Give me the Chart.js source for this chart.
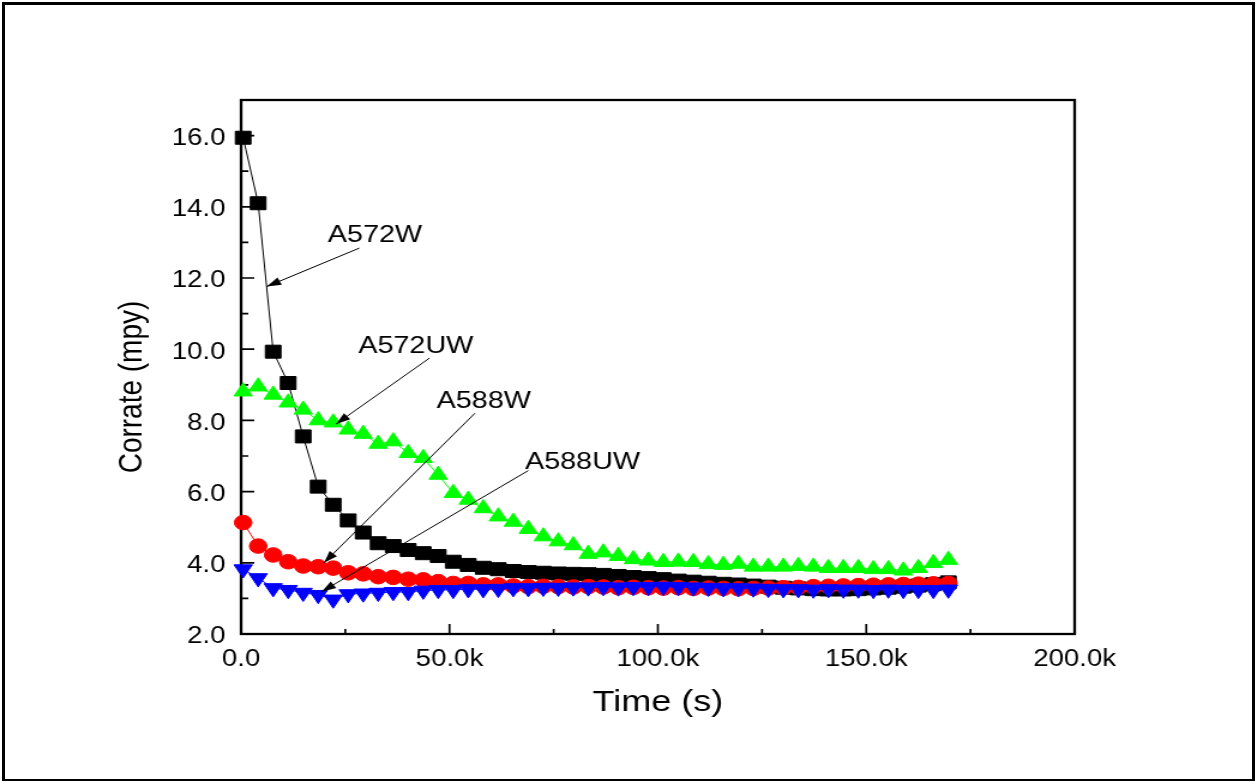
<!DOCTYPE html>
<html>
<head>
<meta charset="utf-8">
<title>Corrate vs Time</title>
<script src="https://cdn.jsdelivr.net/npm/chart.js@4.4.1/dist/chart.umd.min.js"></script>
<style>
  html, body { margin: 0; padding: 0; background: #fff; overflow: hidden; }
  #frame { position: absolute; left: 2px; top: 2px; width: 1247px; height: 774px; border: 3px solid #000; border-bottom-width: 2px; }
  /* the original figure is stretched sideways, so draw narrow and widen */
  #wrap { position: absolute; left: 0; top: 0; width: 1048px; height: 781px; transform: scaleX(1.1994); transform-origin: 0 0; }
</style>
</head>
<body>
<div id="frame"></div>
<div id="wrap"><canvas id="chart"></canvas></div>
<script>
// DATA
const TIME_S = [
  500, 4100, 7700, 11300, 14900, 18500, 22100, 25700, 29300, 32900,
  36500, 40100, 43700, 47300, 50900, 54500, 58100, 61700, 65300, 68900,
  72500, 76100, 79700, 83300, 86900, 90500, 94100, 97700, 101300, 104900,
  108500, 112100, 115700, 119300, 122900, 126500, 130100, 133700, 137300, 140900,
  144500, 148100, 151700, 155300, 158900, 162500, 166100, 169700
];
const A572W = [
  15.94, 14.10, 9.93, 9.05, 7.55, 6.14, 5.63, 5.19, 4.85, 4.55,
  4.47, 4.36, 4.27, 4.19, 4.03, 3.94, 3.86, 3.82, 3.77, 3.74,
  3.72, 3.70, 3.69, 3.68, 3.66, 3.63, 3.60, 3.57, 3.54, 3.50,
  3.47, 3.44, 3.41, 3.39, 3.36, 3.33, 3.30, 3.28, 3.26, 3.25,
  3.25, 3.26, 3.28, 3.30, 3.33, 3.36, 3.40, 3.45
];
const A588W = [
  5.13, 4.47, 4.22, 4.03, 3.91, 3.89, 3.85, 3.72, 3.69, 3.61,
  3.59, 3.54, 3.52, 3.47, 3.42, 3.42, 3.38, 3.38, 3.35, 3.33,
  3.34, 3.33, 3.32, 3.33, 3.32, 3.30, 3.31, 3.30, 3.29, 3.30,
  3.28, 3.29, 3.28, 3.27, 3.28, 3.29, 3.30, 3.31, 3.33, 3.34,
  3.35, 3.36, 3.37, 3.38, 3.39, 3.40, 3.41, 3.42
];
const A572UW = [
  8.81, 8.95, 8.72, 8.50, 8.30, 8.00, 7.94, 7.74, 7.62, 7.34,
  7.41, 7.08, 6.94, 6.47, 5.96, 5.77, 5.53, 5.30, 5.15, 4.95,
  4.74, 4.60, 4.49, 4.25, 4.29, 4.19, 4.10, 4.06, 4.02, 4.03,
  4.02, 3.96, 3.94, 3.97, 3.89, 3.89, 3.89, 3.91, 3.89, 3.85,
  3.85, 3.85, 3.82, 3.82, 3.78, 3.85, 3.99, 4.08
];
const A588UW = [
  3.82, 3.57, 3.29, 3.24, 3.16, 3.10, 2.97, 3.12, 3.14, 3.16,
  3.18, 3.18, 3.22, 3.24, 3.24, 3.26, 3.26, 3.27, 3.29, 3.29,
  3.30, 3.30, 3.31, 3.31, 3.32, 3.31, 3.32, 3.32, 3.33, 3.32,
  3.31, 3.30, 3.29, 3.29, 3.28, 3.27, 3.26, 3.26, 3.25, 3.26,
  3.25, 3.25, 3.24, 3.25, 3.24, 3.24, 3.24, 3.25
];

// labels with arrows, in data units: text corner, line start, arrow tip
const NOTES = [
  { text: 'A572W',  tx: 20800, ty: 13.02, x0: 28370, y0: 12.84, x1: 6160,  y1: 11.76 },
  { text: 'A572UW', tx: 28100, ty: 9.89,  x0: 45200, y0: 9.75,  x1: 22800, y1: 7.90 },
  { text: 'A588W',  tx: 46900, ty: 8.35,  x0: 56100, y0: 8.20,  x1: 19900, y1: 4.00 },
  { text: 'A588UW', tx: 68100, ty: 6.63,  x0: 68900, y0: 6.59,  x1: 19350, y1: 3.19 }
];

const FONT = 'Arial, "Liberation Sans", sans-serif';

function pts(vals) { return vals.map((v, i) => ({ x: TIME_S[i], y: v })); }

const boxAndTicks = {
    id: 'boxAndTicks',
    beforeDatasetsDraw(chart) {
        const { ctx, chartArea: a, scales: { x, y } } = chart;
        ctx.save();
        ctx.strokeStyle = '#000';
        ctx.lineWidth = 2.3;
        ctx.strokeRect(a.left, a.top, a.right - a.left, a.bottom - a.top);
        ctx.lineWidth = 1.7;
        ctx.beginPath();
        const xt = x.ticks.map(t => t.value);
        xt.forEach((v, i) => {
            const px = x.getPixelForValue(v);
            ctx.moveTo(px, a.bottom); ctx.lineTo(px, a.bottom - 10);
            if (i < xt.length - 1) {
                const pm = x.getPixelForValue((v + xt[i + 1]) / 2);
                ctx.moveTo(pm, a.bottom); ctx.lineTo(pm, a.bottom - 5);
            }
        });
        const yt = y.ticks.map(t => t.value);
        yt.forEach((v, i) => {
            const py = y.getPixelForValue(v);
            ctx.moveTo(a.left, py); ctx.lineTo(a.left + 11, py);
            const mid = i < yt.length - 1 ? (v + yt[i + 1]) / 2 : v + 1;
            if (mid < y.max) {
                const pm = y.getPixelForValue(mid);
                ctx.moveTo(a.left, pm); ctx.lineTo(a.left + 6, pm);
            }
        });
        ctx.stroke();
        ctx.restore();
    },
    afterDatasetsDraw(chart) {
        const { ctx, scales: { x, y } } = chart;
        ctx.save();
        ctx.fillStyle = '#000';
        ctx.strokeStyle = '#000';
        ctx.font = '24px ' + FONT;
        ctx.textBaseline = 'alphabetic';
        ctx.textAlign = 'left';
        NOTES.forEach(n => {
            ctx.fillText(n.text, x.getPixelForValue(n.tx), y.getPixelForValue(n.ty));
            const sx = x.getPixelForValue(n.x0), sy = y.getPixelForValue(n.y0);
            const ex = x.getPixelForValue(n.x1), ey = y.getPixelForValue(n.y1);
            ctx.lineWidth = 1;
            ctx.beginPath(); ctx.moveTo(sx, sy); ctx.lineTo(ex, ey); ctx.stroke();
            const ang = Math.atan2(ey - sy, ex - sx);
            const len = 12, half = 4;
            const bx = ex - Math.cos(ang) * len, by = ey - Math.sin(ang) * len;
            ctx.beginPath();
            ctx.moveTo(ex, ey);
            ctx.lineTo(bx - Math.sin(ang) * half, by + Math.cos(ang) * half);
            ctx.lineTo(bx + Math.sin(ang) * half, by - Math.cos(ang) * half);
            ctx.closePath();
            ctx.fill();
        });
        ctx.restore();
    },
    afterDraw(chart) {
        const { ctx, chartArea: a } = chart;
        ctx.save();
        ctx.translate(110, (a.top + a.bottom) / 2 + 20);
        ctx.rotate(-Math.PI / 2);
        ctx.font = '28px ' + FONT;
        ctx.fillStyle = '#000';
        ctx.textAlign = 'center';
        ctx.textBaseline = 'middle';
        ctx.fillText('Corrate (mpy)', 0, 0);
        ctx.restore();
    }
};

document.addEventListener('DOMContentLoaded', function () {
    const common = { showLine: true, borderWidth: 1, pointBorderWidth: 1, clip: false, fill: false, tension: 0 };
    new Chart(document.getElementById('chart').getContext('2d'), {
        type: 'scatter',
        data: {
            datasets: [
                { ...common, label: 'A588UW', data: pts(A588UW), borderColor: '#0000ff', backgroundColor: '#0000ff',
                  pointStyle: 'triangle', rotation: 180, pointRadius: 8.8 },
                { ...common, label: 'A588W', data: pts(A588W), borderColor: '#ff0000', backgroundColor: '#ff0000',
                  pointStyle: 'circle', pointRadius: 7.3 },
                { ...common, label: 'A572UW', data: pts(A572UW), borderColor: '#00ff00', backgroundColor: '#00ff00',
                  pointStyle: 'triangle', pointRadius: 8.8 },
                { ...common, label: 'A572W', data: pts(A572W), borderColor: '#000000', backgroundColor: '#000000',
                  pointStyle: 'rect', pointRadius: 9.2 }
            ]
        },
        options: {
            responsive: true,
            maintainAspectRatio: false,
            animation: false,
            events: [],
            layout: { padding: { top: 100, left: 0, right: 152, bottom: 0 } },
            plugins: { legend: { display: false }, tooltip: { enabled: false } },
            scales: {
                x: {
                    type: 'linear', min: 0, max: 200000,
                    grid: { display: false, drawTicks: false },
                    border: { display: false },
                    ticks: {
                        stepSize: 50000, padding: 12, color: '#000', maxRotation: 0,
                        font: { family: FONT, size: 23 },
                        callback: v => v === 0 ? '0.0' : (v / 1000).toFixed(1) + 'k'
                    },
                    title: { display: true, text: 'Time (s)', color: '#000',
                             font: { family: FONT, size: 30 }, padding: { top: 0, bottom: 60 } },
                    afterFit: s => { s.height = 147; }
                },
                y: {
                    type: 'linear', min: 2, max: 17,
                    grid: { display: false, drawTicks: false },
                    border: { display: false },
                    ticks: {
                        stepSize: 2, includeBounds: false, padding: 13, labelOffset: 3, color: '#000',
                        font: { family: FONT, size: 23 },
                        callback: v => v % 2 === 0 ? v.toFixed(1) : ''
                    },
                    afterFit: s => { s.width = 201; }
                }
            }
        },
        plugins: [boxAndTicks]
    });
});
</script>
</body>
</html>
